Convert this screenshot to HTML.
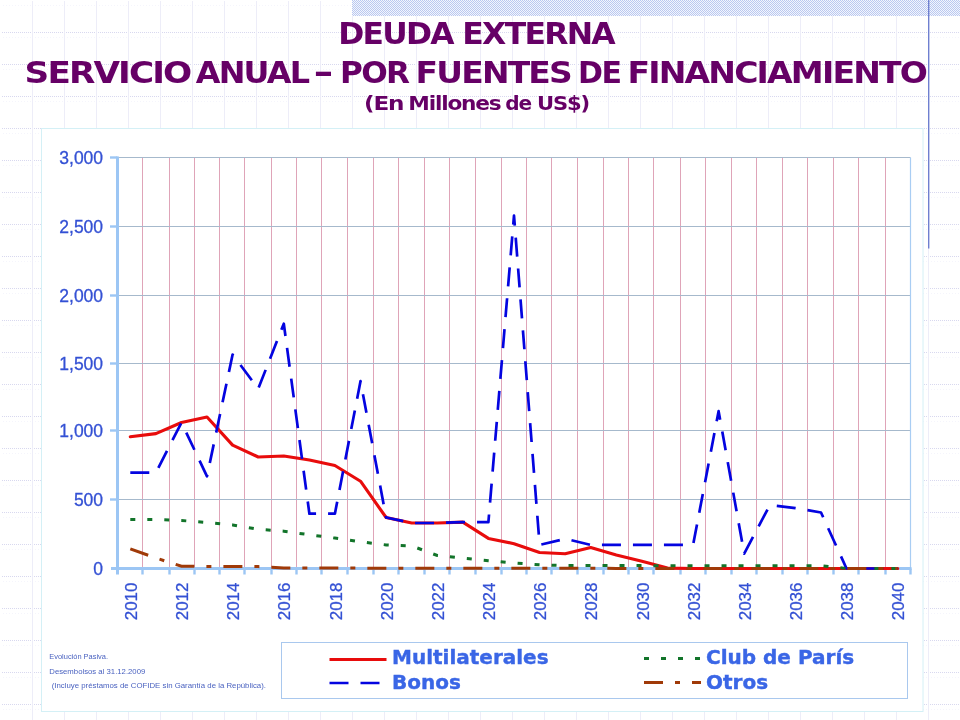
<!DOCTYPE html>
<html lang="es"><head><meta charset="utf-8"><title>Deuda Externa - Servicio Anual</title>
<style>html,body{margin:0;padding:0;background:#fff;}body{width:960px;height:720px;position:relative;overflow:hidden;}</style>
</head><body>
<svg width="960" height="720" viewBox="0 0 960 720" style="position:absolute;left:0;top:0">
<defs>
<pattern id="bg" width="32" height="32" patternUnits="userSpaceOnUse"><rect width="32" height="32" fill="#fff"/><line x1="0" y1="0.5" x2="32" y2="0.5" stroke="#d8d8ef" stroke-width="1" stroke-dasharray="1 1"/><line x1="0" y1="5.5" x2="32" y2="5.5" stroke="#f5f5fc" stroke-width="1" stroke-dasharray="1 2"/><line x1="0.5" y1="0" x2="0.5" y2="32" stroke="#ededf8" stroke-width="1"/></pattern>
<pattern id="chk" width="2" height="2" patternUnits="userSpaceOnUse"><rect width="2" height="2" fill="#f3f6fd"/><rect width="1" height="1" fill="#bac8f0"/><rect x="1" y="1" width="1" height="1" fill="#bac8f0"/></pattern>
</defs>
<rect width="960" height="720" fill="url(#bg)"/>
<rect x="0" y="0" width="960" height="1" fill="#fff"/><rect x="0" y="0" width="1" height="720" fill="#fff"/>
<rect x="352" y="0" width="608" height="16" fill="url(#chk)"/>
<rect x="928" y="0" width="1.4" height="248.5" fill="#6f7fd0"/>
<rect x="41.5" y="128.5" width="881.5" height="583" fill="#fff" stroke="#d4f0f6" stroke-width="1"/>
<line x1="142.50" y1="157.5" x2="142.50" y2="568.5" stroke="#dfa4b8" stroke-width="1"/>
<line x1="169.50" y1="157.5" x2="169.50" y2="568.5" stroke="#dfa4b8" stroke-width="1"/>
<line x1="194.50" y1="157.5" x2="194.50" y2="568.5" stroke="#dfa4b8" stroke-width="1"/>
<line x1="219.50" y1="157.5" x2="219.50" y2="568.5" stroke="#dfa4b8" stroke-width="1"/>
<line x1="244.50" y1="157.5" x2="244.50" y2="568.5" stroke="#dfa4b8" stroke-width="1"/>
<line x1="271.50" y1="157.5" x2="271.50" y2="568.5" stroke="#dfa4b8" stroke-width="1"/>
<line x1="296.50" y1="157.5" x2="296.50" y2="568.5" stroke="#dfa4b8" stroke-width="1"/>
<line x1="321.50" y1="157.5" x2="321.50" y2="568.5" stroke="#dfa4b8" stroke-width="1"/>
<line x1="347.50" y1="157.5" x2="347.50" y2="568.5" stroke="#dfa4b8" stroke-width="1"/>
<line x1="373.50" y1="157.5" x2="373.50" y2="568.5" stroke="#dfa4b8" stroke-width="1"/>
<line x1="398.50" y1="157.5" x2="398.50" y2="568.5" stroke="#dfa4b8" stroke-width="1"/>
<line x1="424.50" y1="157.5" x2="424.50" y2="568.5" stroke="#dfa4b8" stroke-width="1"/>
<line x1="449.50" y1="157.5" x2="449.50" y2="568.5" stroke="#dfa4b8" stroke-width="1"/>
<line x1="475.50" y1="157.5" x2="475.50" y2="568.5" stroke="#dfa4b8" stroke-width="1"/>
<line x1="501.50" y1="157.5" x2="501.50" y2="568.5" stroke="#dfa4b8" stroke-width="1"/>
<line x1="526.50" y1="157.5" x2="526.50" y2="568.5" stroke="#dfa4b8" stroke-width="1"/>
<line x1="551.50" y1="157.5" x2="551.50" y2="568.5" stroke="#dfa4b8" stroke-width="1"/>
<line x1="577.50" y1="157.5" x2="577.50" y2="568.5" stroke="#dfa4b8" stroke-width="1"/>
<line x1="603.50" y1="157.5" x2="603.50" y2="568.5" stroke="#dfa4b8" stroke-width="1"/>
<line x1="628.50" y1="157.5" x2="628.50" y2="568.5" stroke="#dfa4b8" stroke-width="1"/>
<line x1="653.50" y1="157.5" x2="653.50" y2="568.5" stroke="#dfa4b8" stroke-width="1"/>
<line x1="680.50" y1="157.5" x2="680.50" y2="568.5" stroke="#dfa4b8" stroke-width="1"/>
<line x1="705.50" y1="157.5" x2="705.50" y2="568.5" stroke="#dfa4b8" stroke-width="1"/>
<line x1="731.50" y1="157.5" x2="731.50" y2="568.5" stroke="#dfa4b8" stroke-width="1"/>
<line x1="756.50" y1="157.5" x2="756.50" y2="568.5" stroke="#dfa4b8" stroke-width="1"/>
<line x1="782.50" y1="157.5" x2="782.50" y2="568.5" stroke="#dfa4b8" stroke-width="1"/>
<line x1="807.50" y1="157.5" x2="807.50" y2="568.5" stroke="#dfa4b8" stroke-width="1"/>
<line x1="833.50" y1="157.5" x2="833.50" y2="568.5" stroke="#dfa4b8" stroke-width="1"/>
<line x1="858.50" y1="157.5" x2="858.50" y2="568.5" stroke="#dfa4b8" stroke-width="1"/>
<line x1="885.50" y1="157.5" x2="885.50" y2="568.5" stroke="#dfa4b8" stroke-width="1"/>
<line x1="117.5" y1="157.50" x2="910.5" y2="157.50" stroke="#a6b9cc" stroke-width="1"/>
<line x1="117.5" y1="226.50" x2="910.5" y2="226.50" stroke="#a6b9cc" stroke-width="1"/>
<line x1="117.5" y1="295.50" x2="910.5" y2="295.50" stroke="#a6b9cc" stroke-width="1"/>
<line x1="117.5" y1="363.50" x2="910.5" y2="363.50" stroke="#a6b9cc" stroke-width="1"/>
<line x1="117.5" y1="430.50" x2="910.5" y2="430.50" stroke="#a6b9cc" stroke-width="1"/>
<line x1="117.5" y1="499.50" x2="910.5" y2="499.50" stroke="#a6b9cc" stroke-width="1"/>
<line x1="910.5" y1="157.5" x2="910.5" y2="570.0" stroke="#a9cdf3" stroke-width="1.2"/>
<line x1="117.5" y1="156.5" x2="117.5" y2="574.5" stroke="#9cc6f4" stroke-width="3"/>
<line x1="111.0" y1="568.5" x2="911.5" y2="568.5" stroke="#9cc6f4" stroke-width="3"/>
<line x1="110.0" y1="157.50" x2="117.5" y2="157.50" stroke="#9cc6f4" stroke-width="2.4"/>
<line x1="110.0" y1="226.50" x2="117.5" y2="226.50" stroke="#9cc6f4" stroke-width="2.4"/>
<line x1="110.0" y1="295.50" x2="117.5" y2="295.50" stroke="#9cc6f4" stroke-width="2.4"/>
<line x1="110.0" y1="363.50" x2="117.5" y2="363.50" stroke="#9cc6f4" stroke-width="2.4"/>
<line x1="110.0" y1="430.50" x2="117.5" y2="430.50" stroke="#9cc6f4" stroke-width="2.4"/>
<line x1="110.0" y1="499.50" x2="117.5" y2="499.50" stroke="#9cc6f4" stroke-width="2.4"/>
<line x1="142.50" y1="568.5" x2="142.50" y2="574.5" stroke="#9cc6f4" stroke-width="2.4"/>
<line x1="169.50" y1="568.5" x2="169.50" y2="574.5" stroke="#9cc6f4" stroke-width="2.4"/>
<line x1="194.50" y1="568.5" x2="194.50" y2="574.5" stroke="#9cc6f4" stroke-width="2.4"/>
<line x1="219.50" y1="568.5" x2="219.50" y2="574.5" stroke="#9cc6f4" stroke-width="2.4"/>
<line x1="244.50" y1="568.5" x2="244.50" y2="574.5" stroke="#9cc6f4" stroke-width="2.4"/>
<line x1="271.50" y1="568.5" x2="271.50" y2="574.5" stroke="#9cc6f4" stroke-width="2.4"/>
<line x1="296.50" y1="568.5" x2="296.50" y2="574.5" stroke="#9cc6f4" stroke-width="2.4"/>
<line x1="321.50" y1="568.5" x2="321.50" y2="574.5" stroke="#9cc6f4" stroke-width="2.4"/>
<line x1="347.50" y1="568.5" x2="347.50" y2="574.5" stroke="#9cc6f4" stroke-width="2.4"/>
<line x1="373.50" y1="568.5" x2="373.50" y2="574.5" stroke="#9cc6f4" stroke-width="2.4"/>
<line x1="398.50" y1="568.5" x2="398.50" y2="574.5" stroke="#9cc6f4" stroke-width="2.4"/>
<line x1="424.50" y1="568.5" x2="424.50" y2="574.5" stroke="#9cc6f4" stroke-width="2.4"/>
<line x1="449.50" y1="568.5" x2="449.50" y2="574.5" stroke="#9cc6f4" stroke-width="2.4"/>
<line x1="475.50" y1="568.5" x2="475.50" y2="574.5" stroke="#9cc6f4" stroke-width="2.4"/>
<line x1="501.50" y1="568.5" x2="501.50" y2="574.5" stroke="#9cc6f4" stroke-width="2.4"/>
<line x1="526.50" y1="568.5" x2="526.50" y2="574.5" stroke="#9cc6f4" stroke-width="2.4"/>
<line x1="551.50" y1="568.5" x2="551.50" y2="574.5" stroke="#9cc6f4" stroke-width="2.4"/>
<line x1="577.50" y1="568.5" x2="577.50" y2="574.5" stroke="#9cc6f4" stroke-width="2.4"/>
<line x1="603.50" y1="568.5" x2="603.50" y2="574.5" stroke="#9cc6f4" stroke-width="2.4"/>
<line x1="628.50" y1="568.5" x2="628.50" y2="574.5" stroke="#9cc6f4" stroke-width="2.4"/>
<line x1="653.50" y1="568.5" x2="653.50" y2="574.5" stroke="#9cc6f4" stroke-width="2.4"/>
<line x1="680.50" y1="568.5" x2="680.50" y2="574.5" stroke="#9cc6f4" stroke-width="2.4"/>
<line x1="705.50" y1="568.5" x2="705.50" y2="574.5" stroke="#9cc6f4" stroke-width="2.4"/>
<line x1="731.50" y1="568.5" x2="731.50" y2="574.5" stroke="#9cc6f4" stroke-width="2.4"/>
<line x1="756.50" y1="568.5" x2="756.50" y2="574.5" stroke="#9cc6f4" stroke-width="2.4"/>
<line x1="782.50" y1="568.5" x2="782.50" y2="574.5" stroke="#9cc6f4" stroke-width="2.4"/>
<line x1="807.50" y1="568.5" x2="807.50" y2="574.5" stroke="#9cc6f4" stroke-width="2.4"/>
<line x1="833.50" y1="568.5" x2="833.50" y2="574.5" stroke="#9cc6f4" stroke-width="2.4"/>
<line x1="858.50" y1="568.5" x2="858.50" y2="574.5" stroke="#9cc6f4" stroke-width="2.4"/>
<line x1="885.50" y1="568.5" x2="885.50" y2="574.5" stroke="#9cc6f4" stroke-width="2.4"/>
<line x1="910.50" y1="568.5" x2="910.50" y2="574.5" stroke="#9cc6f4" stroke-width="2.4"/>
<path d="M130.3,436.7 L155.9,433.6 L181.5,422.5 L207.0,417.0 L232.6,445.1 L258.2,457.0 L283.8,456.0 L309.4,460.0 L334.9,465.5 L360.5,481.2 L386.1,517.5 L411.7,523.0 L437.3,523.0 L462.8,522.1 L488.4,538.4 L514.0,543.7 L539.6,552.5 L565.2,553.7 L590.7,547.5 L616.3,554.9 L641.9,561.2 L667.5,568.1 L693.1,568.5 L718.6,568.5 L744.2,568.5 L769.8,568.5 L795.4,568.5 L821.0,568.5 L846.5,568.5 L872.1,568.5 L897.7,568.5" fill="none" stroke="#e80c0c" stroke-width="3.1" stroke-linejoin="round" stroke-linecap="round"/>
<path d="M130.3,472.6 L155.9,472.6 L181.5,422.5 L207.0,476.3 L232.6,354.5 L258.2,388.8 L283.8,323.7 L309.4,513.7 L334.9,513.7 L360.5,381.2 L386.1,517.5 L411.7,523.0 L437.3,523.0 L462.8,522.1 L488.4,522.1 L514.0,215.6 L539.6,544.9 L565.2,538.8 L590.7,544.9 L616.3,544.9 L641.9,544.9 L667.5,544.9 L693.1,544.9 L718.6,411.2 L744.2,553.7 L769.8,505.1 L795.4,508.1 L821.0,512.5 L846.5,568.5 L872.1,568.5 L897.7,568.5" fill="none" stroke="#0404e0" stroke-width="2.7" stroke-dasharray="19 12" stroke-linejoin="round"/>
<path d="M130.3,519.5 L155.9,519.5 L181.5,520.5 L207.0,522.5 L232.6,524.9 L258.2,529.3 L283.8,531.2 L309.4,534.8 L334.9,538.1 L360.5,541.8 L386.1,544.9 L411.7,545.9 L437.3,555.5 L462.8,558.2 L488.4,560.7 L514.0,563.0 L539.6,564.8 L565.2,565.5 L590.7,565.5 L616.3,565.5 L641.9,565.5 L667.5,565.8 L693.1,565.8 L718.6,565.8 L744.2,565.8 L769.8,565.8 L795.4,565.8 L821.0,565.8 L846.5,568.5 L872.1,568.5 L897.7,568.5" fill="none" stroke="#12742a" stroke-width="3" stroke-dasharray="5 12"/>
<path d="M130.3,548.8 L155.9,558.0 L181.5,566.3 L207.0,566.4 L232.6,566.4 L258.2,566.6 L283.8,568.1 L309.4,568.1 L334.9,568.1 L360.5,568.1 L386.1,568.2 L411.7,568.2 L437.3,568.2 L462.8,568.2 L488.4,568.2 L514.0,568.2 L539.6,568.2 L565.2,568.2 L590.7,568.2 L616.3,568.4 L641.9,568.4 L667.5,568.4 L693.1,568.4 L718.6,568.4 L744.2,568.4 L769.8,568.4 L795.4,568.4 L821.0,568.4 L846.5,568.5 L872.1,568.5 L897.7,568.5" fill="none" stroke="#a03a08" stroke-width="3" stroke-dasharray="19 12 5 12"/>
<text x="103.1" y="163.8" text-anchor="end" font-family="'Liberation Sans', sans-serif" font-size="17.5" fill="#3350d4" stroke="#3350d4" stroke-width="0.3">3,000</text>
<text x="103.1" y="232.8" text-anchor="end" font-family="'Liberation Sans', sans-serif" font-size="17.5" fill="#3350d4" stroke="#3350d4" stroke-width="0.3">2,500</text>
<text x="103.1" y="301.8" text-anchor="end" font-family="'Liberation Sans', sans-serif" font-size="17.5" fill="#3350d4" stroke="#3350d4" stroke-width="0.3">2,000</text>
<text x="103.1" y="369.8" text-anchor="end" font-family="'Liberation Sans', sans-serif" font-size="17.5" fill="#3350d4" stroke="#3350d4" stroke-width="0.3">1,500</text>
<text x="103.1" y="436.8" text-anchor="end" font-family="'Liberation Sans', sans-serif" font-size="17.5" fill="#3350d4" stroke="#3350d4" stroke-width="0.3">1,000</text>
<text x="103.1" y="505.8" text-anchor="end" font-family="'Liberation Sans', sans-serif" font-size="17.5" fill="#3350d4" stroke="#3350d4" stroke-width="0.3">500</text>
<text x="103.1" y="574.8" text-anchor="end" font-family="'Liberation Sans', sans-serif" font-size="17.5" fill="#3350d4" stroke="#3350d4" stroke-width="0.3">0</text>
<text transform="translate(136.9,582.5) rotate(-90)" text-anchor="end" font-family="'Liberation Sans', sans-serif" font-size="17" fill="#3350d4" stroke="#3350d4" stroke-width="0.3">2010</text>
<text transform="translate(188.1,582.5) rotate(-90)" text-anchor="end" font-family="'Liberation Sans', sans-serif" font-size="17" fill="#3350d4" stroke="#3350d4" stroke-width="0.3">2012</text>
<text transform="translate(239.2,582.5) rotate(-90)" text-anchor="end" font-family="'Liberation Sans', sans-serif" font-size="17" fill="#3350d4" stroke="#3350d4" stroke-width="0.3">2014</text>
<text transform="translate(290.4,582.5) rotate(-90)" text-anchor="end" font-family="'Liberation Sans', sans-serif" font-size="17" fill="#3350d4" stroke="#3350d4" stroke-width="0.3">2016</text>
<text transform="translate(341.5,582.5) rotate(-90)" text-anchor="end" font-family="'Liberation Sans', sans-serif" font-size="17" fill="#3350d4" stroke="#3350d4" stroke-width="0.3">2018</text>
<text transform="translate(392.7,582.5) rotate(-90)" text-anchor="end" font-family="'Liberation Sans', sans-serif" font-size="17" fill="#3350d4" stroke="#3350d4" stroke-width="0.3">2020</text>
<text transform="translate(443.9,582.5) rotate(-90)" text-anchor="end" font-family="'Liberation Sans', sans-serif" font-size="17" fill="#3350d4" stroke="#3350d4" stroke-width="0.3">2022</text>
<text transform="translate(495.0,582.5) rotate(-90)" text-anchor="end" font-family="'Liberation Sans', sans-serif" font-size="17" fill="#3350d4" stroke="#3350d4" stroke-width="0.3">2024</text>
<text transform="translate(546.2,582.5) rotate(-90)" text-anchor="end" font-family="'Liberation Sans', sans-serif" font-size="17" fill="#3350d4" stroke="#3350d4" stroke-width="0.3">2026</text>
<text transform="translate(597.3,582.5) rotate(-90)" text-anchor="end" font-family="'Liberation Sans', sans-serif" font-size="17" fill="#3350d4" stroke="#3350d4" stroke-width="0.3">2028</text>
<text transform="translate(648.5,582.5) rotate(-90)" text-anchor="end" font-family="'Liberation Sans', sans-serif" font-size="17" fill="#3350d4" stroke="#3350d4" stroke-width="0.3">2030</text>
<text transform="translate(699.7,582.5) rotate(-90)" text-anchor="end" font-family="'Liberation Sans', sans-serif" font-size="17" fill="#3350d4" stroke="#3350d4" stroke-width="0.3">2032</text>
<text transform="translate(750.8,582.5) rotate(-90)" text-anchor="end" font-family="'Liberation Sans', sans-serif" font-size="17" fill="#3350d4" stroke="#3350d4" stroke-width="0.3">2034</text>
<text transform="translate(802.0,582.5) rotate(-90)" text-anchor="end" font-family="'Liberation Sans', sans-serif" font-size="17" fill="#3350d4" stroke="#3350d4" stroke-width="0.3">2036</text>
<text transform="translate(853.1,582.5) rotate(-90)" text-anchor="end" font-family="'Liberation Sans', sans-serif" font-size="17" fill="#3350d4" stroke="#3350d4" stroke-width="0.3">2038</text>
<text transform="translate(904.3,582.5) rotate(-90)" text-anchor="end" font-family="'Liberation Sans', sans-serif" font-size="17" fill="#3350d4" stroke="#3350d4" stroke-width="0.3">2040</text>
<rect x="281.5" y="642.5" width="626" height="56" fill="#fff" stroke="#a9c8ee" stroke-width="1"/>
<line x1="329.5" y1="659.5" x2="386.5" y2="659.5" stroke="#e80c0c" stroke-width="3.1"/>
<line x1="329.5" y1="683" x2="386.5" y2="683" stroke="#0404e0" stroke-width="2.7" stroke-dasharray="19 12"/>
<line x1="644" y1="658.5" x2="701" y2="658.5" stroke="#12742a" stroke-width="3" stroke-dasharray="5 12"/>
<line x1="644" y1="682.5" x2="701" y2="682.5" stroke="#a03a08" stroke-width="3" stroke-dasharray="19 12 5 12"/>
<text x="392" y="664" font-family="'DejaVu Sans', 'Liberation Sans', sans-serif" font-weight="bold" font-size="20" fill="#3a66e6" stroke="#3a66e6" stroke-width="0.4">Multilaterales</text>
<text x="392" y="688.5" font-family="'DejaVu Sans', 'Liberation Sans', sans-serif" font-weight="bold" font-size="20" fill="#3a66e6" stroke="#3a66e6" stroke-width="0.4">Bonos</text>
<text x="706" y="664" font-family="'DejaVu Sans', 'Liberation Sans', sans-serif" font-weight="bold" font-size="20" fill="#3a66e6" stroke="#3a66e6" stroke-width="0.4">Club de París</text>
<text x="706" y="688.5" font-family="'DejaVu Sans', 'Liberation Sans', sans-serif" font-weight="bold" font-size="20" fill="#3a66e6" stroke="#3a66e6" stroke-width="0.4">Otros</text>
<text x="49.3" y="659.3" textLength="58.7" lengthAdjust="spacingAndGlyphs" font-family="'Liberation Sans', sans-serif" font-size="7.8" fill="#4a62c0">Evolución Pasiva.</text>
<text x="49.3" y="673.8" textLength="96" lengthAdjust="spacingAndGlyphs" font-family="'Liberation Sans', sans-serif" font-size="7.8" fill="#4a62c0">Desembolsos al 31.12.2009</text>
<text x="51.7" y="688.2" textLength="214.3" lengthAdjust="spacingAndGlyphs" font-family="'Liberation Sans', sans-serif" font-size="7.8" fill="#4a62c0">(Incluye préstamos de COFIDE sin Garantía de la República).</text>
<text y="43.5" font-family="'DejaVu Sans', 'Liberation Sans', sans-serif" font-weight="bold" font-size="30" fill="#660066" letter-spacing="-1.65"><tspan x="338.3" textLength="114.6" lengthAdjust="spacingAndGlyphs">DEUDA</tspan> <tspan x="462.3" textLength="151.7" lengthAdjust="spacingAndGlyphs">EXTERNA</tspan></text>
<text y="82.7" font-family="'DejaVu Sans', 'Liberation Sans', sans-serif" font-weight="bold" font-size="30" fill="#660066" letter-spacing="-1.65"><tspan x="24.6" textLength="165.7" lengthAdjust="spacingAndGlyphs">SERVICIO</tspan> <tspan x="195.7" textLength="112.6" lengthAdjust="spacingAndGlyphs">ANUAL</tspan> <tspan x="313.3" textLength="17.7" lengthAdjust="spacingAndGlyphs">-</tspan> <tspan x="340.0" textLength="68.3" lengthAdjust="spacingAndGlyphs">POR</tspan> <tspan x="415.6" textLength="155.3" lengthAdjust="spacingAndGlyphs">FUENTES</tspan> <tspan x="578.1" textLength="42.2" lengthAdjust="spacingAndGlyphs">DE</tspan> <tspan x="627.4" textLength="298.7" lengthAdjust="spacingAndGlyphs">FINANCIAMIENTO</tspan></text>
<text y="110" font-family="'DejaVu Sans', 'Liberation Sans', sans-serif" font-weight="bold" font-size="19" fill="#660066" letter-spacing="-1.04"><tspan x="364.1" textLength="39.0" lengthAdjust="spacingAndGlyphs">(En</tspan> <tspan x="408.3" textLength="92.3" lengthAdjust="spacingAndGlyphs">Millones</tspan> <tspan x="505.3" textLength="25.8" lengthAdjust="spacingAndGlyphs">de</tspan> <tspan x="537.1" textLength="52.0" lengthAdjust="spacingAndGlyphs">US$)</tspan></text>
</svg>
</body></html>
